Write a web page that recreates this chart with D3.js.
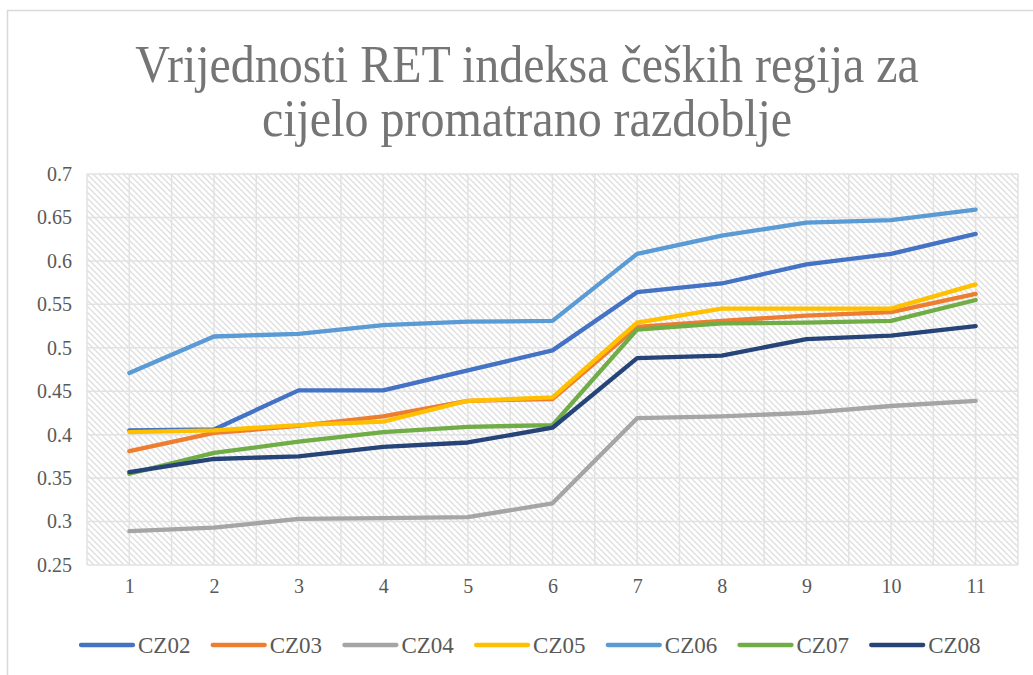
<!DOCTYPE html>
<html>
<head>
    <meta charset="UTF-8">
    <script src="https://d3js.org/d3.v7.min.js"></script>
</head>
<body style="margin:0">
    <svg id="chart" width="1033" height="675"></svg>

    <script>
        // periods 1..11
        const periods = [1, 2, 3, 4, 5, 6, 7, 8, 9, 10, 11];
        const yTicks = [0.25, 0.3, 0.35, 0.4, 0.45, 0.5, 0.55, 0.6, 0.65, 0.7];

        const regions = ["CZ02", "CZ03", "CZ04", "CZ05", "CZ06", "CZ07", "CZ08"];
        const colors = ["#4472C4", "#ED7D31", "#A5A5A5", "#FFC000", "#5B9BD5", "#70AD47", "#264478"];

        const cz02 = [0.405, 0.406, 0.451, 0.451, 0.474, 0.497, 0.564, 0.574, 0.596, 0.608, 0.631];
        const cz03 = [0.381, 0.402, 0.410, 0.421, 0.439, 0.441, 0.524, 0.531, 0.537, 0.541, 0.562];
        const cz04 = [0.289, 0.293, 0.303, 0.304, 0.305, 0.321, 0.419, 0.421, 0.425, 0.433, 0.439];
        const cz05 = [0.403, 0.405, 0.411, 0.415, 0.439, 0.443, 0.529, 0.545, 0.545, 0.545, 0.573];
        const cz06 = [0.471, 0.513, 0.516, 0.526, 0.530, 0.531, 0.608, 0.629, 0.644, 0.647, 0.659];
        const cz07 = [0.355, 0.379, 0.392, 0.403, 0.409, 0.411, 0.521, 0.528, 0.529, 0.531, 0.555];
        const cz08 = [0.357, 0.372, 0.375, 0.386, 0.391, 0.408, 0.488, 0.491, 0.510, 0.514, 0.525];

        const seriesValues = [cz02, cz03, cz04, cz05, cz06, cz07, cz08];

        const serif = '"Liberation Serif"';

        const svg = d3.select("#chart");
        const margin = { top: 174, right: 15, bottom: 110, left: 87 },
              width = 1033 - margin.left - margin.right,
              height = 675 - margin.top - margin.bottom;

        // outer chart frame
        svg.append("rect")
            .attr("x", 7.5).attr("y", 10.5)
            .attr("width", 1100).attr("height", 700)
            .attr("fill", "none")
            .attr("stroke", "#d9d9d9")
            .attr("stroke-width", 1.5);

        // hatch pattern for plot area
        const defs = svg.append("defs");
        const pat = defs.append("pattern")
            .attr("id", "hatch")
            .attr("patternUnits", "userSpaceOnUse")
            .attr("width", 6).attr("height", 6);
        pat.append("path")
            .attr("d", "M0,0 L6,6 M-1,5 L1,7 M5,-1 L7,1")
            .attr("stroke", "#dedede")
            .attr("stroke-width", 1.3);

        const x = d3.scalePoint().domain(periods).range([0, width]).padding(0.5);
        const y = d3.scaleLinear().domain([0.25, 0.7]).range([height, 0]);

        const g = svg.append("g")
            .attr("transform", "translate(" + margin.left + "," + margin.top + ")");

        g.append("rect")
            .attr("width", width).attr("height", height)
            .attr("fill", "url(#hatch)");

        // gridlines: horizontal every 0.05, vertical at every half step
        g.selectAll(".hgrid")
            .data(yTicks)
            .enter().append("line")
            .attr("x1", 0).attr("x2", width)
            .attr("y1", d => y(d)).attr("y2", d => y(d))
            .attr("stroke", "#e2e2e2").attr("stroke-width", 1.5);

        const step = x.step();
        const vgrid = [];
        for (let i = 0; i <= periods.length * 2; i++) vgrid.push(i * step / 2);
        g.selectAll(".vgrid")
            .data(vgrid)
            .enter().append("line")
            .attr("x1", d => d).attr("x2", d => d)
            .attr("y1", 0).attr("y2", height)
            .attr("stroke", "#e2e2e2").attr("stroke-width", 1.5);

        // axes (labels only)
        const yAxis = g.append("g")
            .call(d3.axisLeft(y).tickValues(yTicks).tickSize(0).tickPadding(15).tickFormat(d => String(+d.toFixed(2))));
        yAxis.select(".domain").remove();

        const xAxis = g.append("g")
            .attr("transform", "translate(0," + height + ")")
            .call(d3.axisBottom(x).tickSize(0).tickPadding(14));
        xAxis.select(".domain").remove();

        g.selectAll(".tick text")
            .style("font-family", serif)
            .style("font-size", "20px")
            .attr("fill", "#595959");

        // lines
        const line = d3.line()
            .x((d, i) => x(periods[i]))
            .y(d => y(d));

        g.selectAll(".series")
            .data(seriesValues)
            .enter().append("path")
            .attr("class", "series")
            .attr("d", line)
            .attr("fill", "none")
            .attr("stroke", (d, i) => colors[i])
            .attr("stroke-width", 4.3)
            .attr("stroke-linejoin", "round")
            .attr("stroke-linecap", "round");

        // title, one text per line; a touch taller like the original
        const titleLines = ["Vrijednosti RET indeksa čeških regija za", "cijelo promatrano razdoblje"];
        svg.selectAll(".title")
            .data(titleLines)
            .enter().append("text")
            .attr("class", "title")
            .attr("transform", (d, i) => "translate(527," + (82 + i * 54) + ") scale(1,1.08)")
            .attr("text-anchor", "middle")
            .attr("fill", "#757575")
            .style("font-family", serif)
            .style("font-size", "48px")
            .text(d => d);

        // legend
        const legend = svg.append("g");
        const items = legend.selectAll("g")
            .data(regions)
            .enter().append("g")
            .attr("transform", (d, i) => "translate(" + (81 + i * 131.7) + ",645)");
        items.append("line")
            .attr("x1", 0).attr("x2", 52)
            .attr("stroke", (d, i) => colors[i])
            .attr("stroke-width", 4.3)
            .attr("stroke-linecap", "round");
        items.append("text")
            .attr("x", 57).attr("dy", "0.35em")
            .attr("fill", "#595959")
            .style("font-family", serif)
            .style("font-size", "23px")
            .text(d => d);
    </script>
</body>
</html>
